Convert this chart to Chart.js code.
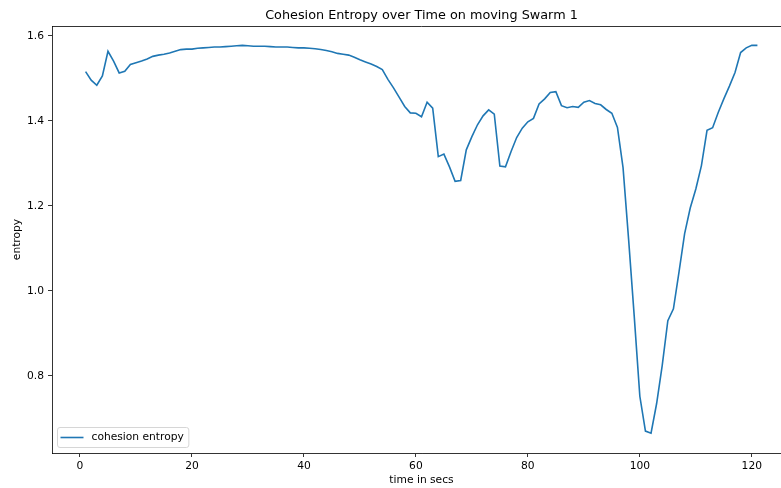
<!DOCTYPE html>
<html>
<head>
<meta charset="utf-8">
<script src="https://cdn.jsdelivr.net/npm/chart.js@4"></script>
<style>
  html, body { margin: 0; padding: 0; background: #ffffff; overflow: hidden; }
  #wrap { width: 792px; height: 488px; }
</style>
</head>
<body>
<div id="wrap"><canvas id="c" width="792" height="488"></canvas></div>
<script>
// Time axis (seconds)
const seconds = [
  1, 2, 3, 4, 5, 6, 7, 8, 9, 10, 11, 12, 13, 14, 15, 16, 17, 18, 19, 20,
  21, 22, 23, 24, 25, 26, 27, 28, 29, 30, 31, 32, 33, 34, 35, 36, 37, 38, 39, 40,
  41, 42, 43, 44, 45, 46, 47, 48, 49, 50, 51, 52, 53, 54, 55, 56, 57, 58, 59, 60,
  61, 62, 63, 64, 65, 66, 67, 68, 69, 70, 71, 72, 73, 74, 75, 76, 77, 78, 79, 80,
  81, 82, 83, 84, 85, 86, 87, 88, 89, 90, 91, 92, 93, 94, 95, 96, 97, 98, 99, 100,
  101, 102, 103, 104, 105, 106, 107, 108, 109, 110, 111, 112, 113, 114, 115, 116, 117, 118, 119, 120,
  121
];

// Cohesion entropy per second
const cohesionEntropy = [
  1.516, 1.496, 1.484, 1.506, 1.564, 1.541, 1.513, 1.517, 1.533, 1.537,
  1.541, 1.546, 1.552, 1.555, 1.557, 1.560, 1.564, 1.568, 1.569, 1.569,
  1.571, 1.572, 1.573, 1.574, 1.574, 1.575, 1.576, 1.577, 1.578, 1.577,
  1.576, 1.576, 1.576, 1.575, 1.574, 1.574, 1.574, 1.573, 1.572, 1.572,
  1.571, 1.570, 1.568, 1.566, 1.563, 1.559, 1.557, 1.555, 1.550, 1.544,
  1.539, 1.534, 1.528, 1.521, 1.498, 1.478, 1.456, 1.434, 1.419, 1.418,
  1.410, 1.444, 1.430, 1.316, 1.322, 1.292, 1.258, 1.260, 1.332, 1.363,
  1.391, 1.412, 1.426, 1.416, 1.294, 1.292, 1.328, 1.361, 1.383, 1.398,
  1.406, 1.440, 1.452, 1.467, 1.469, 1.436, 1.431, 1.434, 1.432, 1.444,
  1.448, 1.441, 1.438, 1.427, 1.418, 1.385, 1.290, 1.120, 0.940, 0.752,
  0.670, 0.665, 0.735, 0.825, 0.930, 0.958, 1.045, 1.135, 1.195, 1.240,
  1.295, 1.378, 1.384, 1.420, 1.452, 1.482, 1.514, 1.561, 1.572, 1.578,
  1.578
];

const xTicks = [0, 20, 40, 60, 80, 100, 120];
const yTicks = [0.8, 1.0, 1.2, 1.4, 1.6];

const titleText = 'Cohesion Entropy over Time on moving Swarm 1';
const seriesLabel = 'cohesion entropy';
const lineColor = '#1f77b4';
const FONT = 'DejaVu Sans';
const LABEL_SIZE = 10.7;
const TITLE_SIZE = 12.8;

// Frame, title and in-plot legend
const decorations = {
  id: 'decorations',
  afterDraw(chart) {
    const { ctx, chartArea: a } = chart;
    ctx.save();
    // top and right spines
    ctx.strokeStyle = '#000';
    ctx.lineWidth = 0.8;
    ctx.beginPath();
    ctx.moveTo(a.left, a.top + 0.5);
    ctx.lineTo(a.right, a.top + 0.5);
    ctx.moveTo(a.right - 0.5, a.top);
    ctx.lineTo(a.right - 0.5, a.bottom);
    ctx.stroke();

    // title
    ctx.fillStyle = '#000';
    ctx.font = TITLE_SIZE + 'px "' + FONT + '"';
    ctx.textAlign = 'center';
    ctx.textBaseline = 'alphabetic';
    ctx.fillText(titleText, (a.left + a.right) / 2, 19);

    // legend, lower left
    const ds = chart.data.datasets[0];
    ctx.font = LABEL_SIZE + 'px "' + FONT + '"';
    const tw = ctx.measureText(ds.label).width;
    const bx = a.left + 5.5, by = a.bottom - 25.5;
    const bw = 34 + tw + 5, bh = 20, r = 2.5;
    ctx.beginPath();
    ctx.moveTo(bx + r, by);
    ctx.lineTo(bx + bw - r, by);
    ctx.arcTo(bx + bw, by, bx + bw, by + r, r);
    ctx.lineTo(bx + bw, by + bh - r);
    ctx.arcTo(bx + bw, by + bh, bx + bw - r, by + bh, r);
    ctx.lineTo(bx + r, by + bh);
    ctx.arcTo(bx, by + bh, bx, by + bh - r, r);
    ctx.lineTo(bx, by + r);
    ctx.arcTo(bx, by, bx + r, by, r);
    ctx.closePath();
    ctx.fillStyle = 'rgba(255,255,255,0.8)';
    ctx.fill();
    ctx.strokeStyle = '#d6d6d6';
    ctx.lineWidth = 1;
    ctx.stroke();

    const ly = by + bh / 2;
    ctx.strokeStyle = ds.borderColor;
    ctx.lineWidth = ds.borderWidth;
    ctx.beginPath();
    ctx.moveTo(bx + 3, ly);
    ctx.lineTo(bx + 26, ly);
    ctx.stroke();

    ctx.fillStyle = '#000';
    ctx.textAlign = 'left';
    ctx.textBaseline = 'middle';
    ctx.fillText(ds.label, bx + 34, ly);
    ctx.restore();
  }
};

new Chart(document.getElementById('c'), {
  type: 'line',
  data: {
    datasets: [{
      label: seriesLabel,
      data: seconds.map((t, i) => ({ x: t, y: cohesionEntropy[i] })),
      borderColor: lineColor,
      backgroundColor: lineColor,
      borderWidth: 1.6,
      pointRadius: 0,
      tension: 0,
      fill: false
    }]
  },
  options: {
    responsive: false,
    devicePixelRatio: 1,
    animation: false,
    events: [],
    layout: { padding: { top: 26, left: 0, right: 1, bottom: 0 } },
    plugins: {
      legend: { display: false },
      title: { display: false },
      tooltip: { enabled: false }
    },
    scales: {
      x: {
        type: 'linear',
        position: 'bottom',
        min: -5,
        max: 127,
        afterBuildTicks: s => { s.ticks = xTicks.map(v => ({ value: v })); },
        afterFit: s => { s.height = 35; },
        ticks: {
          color: '#000',
          font: { family: FONT, size: LABEL_SIZE },
          padding: 3,
          maxRotation: 0,
          callback: v => String(v)
        },
        grid: { drawOnChartArea: false, drawTicks: true, tickLength: 4, tickColor: '#000', tickWidth: 0.8 },
        border: { display: true, color: '#000', width: 0.8 },
        title: {
          display: true,
          text: 'time in secs',
          color: '#000',
          font: { family: FONT, size: LABEL_SIZE },
          padding: { top: 0, bottom: 1.5 }
        }
      },
      y: {
        type: 'linear',
        min: 0.6185,
        max: 1.6235,
        afterBuildTicks: s => { s.ticks = yTicks.map(v => ({ value: v })); },
        afterFit: s => { s.width = 52; },
        ticks: {
          color: '#000',
          font: { family: FONT, size: LABEL_SIZE },
          padding: 4,
          callback: v => Number(v).toFixed(1)
        },
        grid: { drawOnChartArea: false, drawTicks: true, tickLength: 4, tickColor: '#000', tickWidth: 0.8 },
        border: { display: true, color: '#000', width: 0.8 },
        title: {
          display: true,
          text: 'entropy',
          color: '#000',
          font: { family: FONT, size: LABEL_SIZE },
          padding: { top: 10.6, bottom: 0 }
        }
      }
    }
  },
  plugins: [decorations]
});
</script>
</body>
</html>
